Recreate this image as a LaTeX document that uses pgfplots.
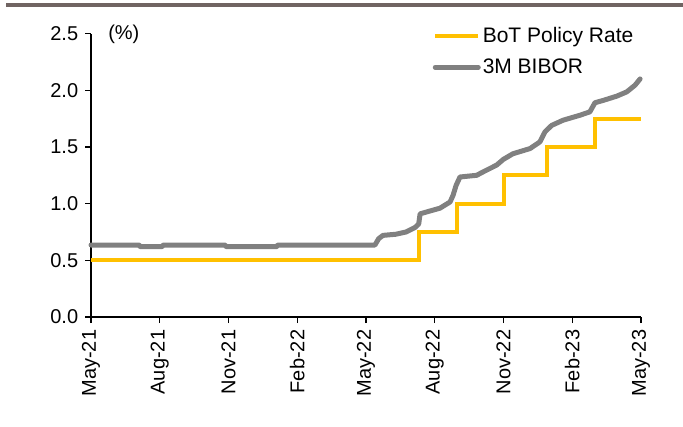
\documentclass[border=0pt]{standalone}
\usepackage{fontspec}
\setmainfont{Liberation Sans}
\usepackage{pgfplots}
\pgfplotsset{compat=1.18}
\definecolor{bot}{HTML}{FFC000}
\definecolor{bibor}{HTML}{808080}
\definecolor{topline}{RGB}{112,100,98}
\newcommand{\chartfont}{\fontsize{20bp}{24bp}\selectfont}
\newcommand{\legfont}{\fontsize{21bp}{25bp}\selectfont}
\begin{document}
\chartfont
\begin{tikzpicture}
\path[use as bounding box] (0,0) rectangle (683bp,427bp);
\fill[topline] (6bp,420bp) rectangle (683bp,423.5bp);
\begin{axis}[
  at={(91bp,110bp)}, anchor=south west,
  scale only axis, width=550bp, height=283.4bp,
  xmin=0, xmax=24, ymin=0, ymax=2.5,
  axis x line=bottom, axis y line=left,
  axis line style={-, line width=1.3bp, black},
  xtick={0,3,...,24},
  xticklabels={May-21,Aug-21,Nov-21,Feb-22,May-22,Aug-22,Nov-22,Feb-23,May-23},
  ytick={0,0.5,1,1.5,2,2.5},
  /pgf/number format/fixed, /pgf/number format/fixed zerofill, /pgf/number format/precision=1,
  /pgf/number format/assume math mode=true,
  tick align=outside, major tick length=6bp,
  tick style={line width=1.3bp, black},
  x tick label style={rotate=90, anchor=east, font=\chartfont},
  y tick label style={font=\chartfont},
  clip=false,
  legend style={at={(0.621,1.03)}, anchor=north west, draw=none, fill=none,
    inner sep=0pt, row sep=9bp, font=\legfont, nodes={inner sep=2bp}},
  legend cell align=left,
  legend image code/.code={\draw[#1] (0bp,0bp) -- (43bp,0bp);},
]
\addplot[bot, line width=4bp, const plot] coordinates {
(0,0.5) (14.31,0.75) (15.98,1.0) (18.02,1.25) (19.88,1.5) (21.99,1.75) (24,1.75)};
\addlegendentry{BoT Policy Rate}
\addplot[bibor, line width=5bp, line cap=round, line join=round] coordinates {
(0,0.635) (2.1,0.635) (2.15,0.62) (3.1,0.62) (3.15,0.635) (5.85,0.635) (5.9,0.62)
(8.1,0.62) (8.15,0.635) (12.39,0.635) (12.55,0.69) (12.74,0.72) (13.3,0.73)
(13.75,0.75) (14.14,0.79) (14.3,0.82) (14.36,0.91) (14.79,0.935) (15.23,0.96)
(15.67,1.015) (15.8,1.074) (15.93,1.16) (16.10,1.235) (16.83,1.25) (17.11,1.28)
(17.70,1.34) (17.99,1.39) (18.41,1.44) (19.16,1.486) (19.59,1.545) (19.81,1.633)
(20.10,1.69) (20.60,1.736) (21.34,1.78) (21.77,1.81) (21.99,1.89) (22.34,1.91)
(22.94,1.948) (23.38,1.986) (23.74,2.045) (23.96,2.10)};
\addlegendentry{3M BIBOR}
\node[anchor=north west, inner sep=0pt, font=\chartfont] at (axis description cs:0.031,1.03) {(\%)};
\end{axis}
\end{tikzpicture}
\end{document}
